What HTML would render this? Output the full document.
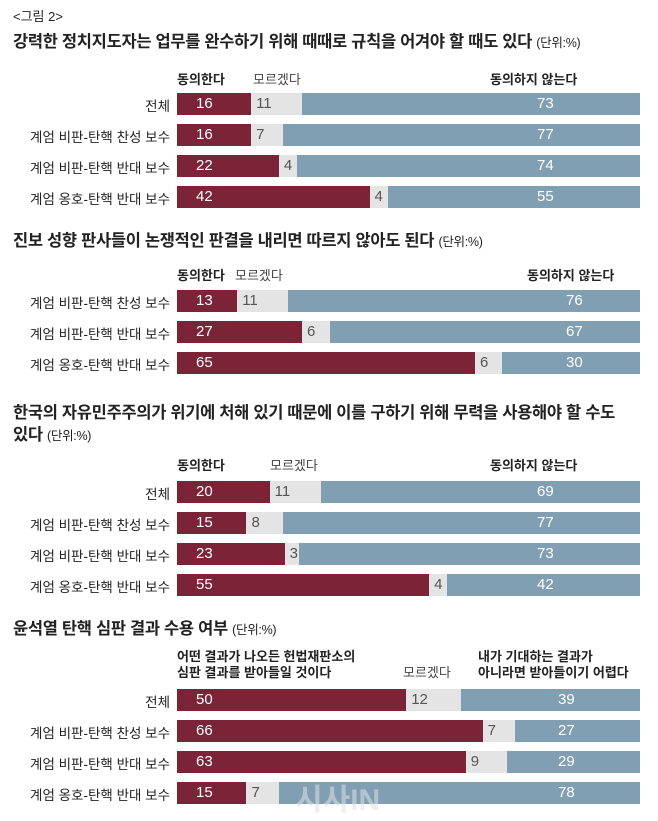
<!DOCTYPE html>
<html><head><meta charset="utf-8">
<style>
body{margin:0;width:658px;height:821px;background:#fff;font-family:"Liberation Sans","Noto Sans CJK KR",sans-serif;position:relative;overflow:hidden;color:#222}
.t{position:absolute;white-space:nowrap}
.title{font-size:16.5px;font-weight:bold;color:#222;letter-spacing:-0.3px}
.title small{font-size:12.5px;font-weight:normal}
.hd{font-size:13px;font-weight:bold;color:#222}
.hd.n{font-weight:normal;color:#444}
.lab{font-size:13.5px;right:488px;text-align:right}
.bar{position:absolute;height:22px}
.v{position:absolute;font-size:15px;line-height:22px;font-family:"Liberation Sans Narrow","Liberation Sans",sans-serif}
</style></head><body>
<div class="t" style="left:13px;top:6px;font-size:13px">&lt;그림 2&gt;</div>
<div id="root"></div>
<div class="t" style="left:295px;top:775px;font-size:30px;font-weight:bold;color:rgba(220,225,230,0.55)">시사IN</div>
<script>
const sections=[
 {title:'강력한 정치지도자는 업무를 완수하기 위해 때때로 규칙을 어겨야 할 때도 있다',ty:31,hy:72,ry:93,blueX:537,
  heads:[['동의한다',177,1],['모르겠다',253,0],['동의하지 않는다',490,1]]},
 {title:'진보 성향 판사들이 논쟁적인 판결을 내리면 따르지 않아도 된다',ty:230,hy:268,ry:290,blueX:566,
  heads:[['동의한다',177,1],['모르겠다',235,0],['동의하지 않는다',527,1]]},
 {title:'한국의 자유민주주의가 위기에 처해 있기 때문에 이를 구하기 위해 무력을 사용해야 할 수도<br>있다',ty:402,hy:458,ry:481,blueX:537,
  heads:[['동의한다',177,1],['모르겠다',270,0],['동의하지 않는다',490,1]]},
 {title:'윤석열 탄핵 심판 결과 수용 여부',ty:618,hy:649,ry:689,blueX:558,
  heads:[['어떤 결과가 나오든 헌법재판소의<br>심판 결과를 받아들일 것이다',177,1],['모르겠다',403,0],['내가 기대하는 결과가<br>아니라면 받아들이기 어렵다',478,1]]}
];
const rowLabels=[
 ['전체','계엄 비판-탄핵 찬성 보수','계엄 비판-탄핵 반대 보수','계엄 옹호-탄핵 반대 보수'],
 ['계엄 비판-탄핵 찬성 보수','계엄 비판-탄핵 반대 보수','계엄 옹호-탄핵 반대 보수'],
 ['전체','계엄 비판-탄핵 찬성 보수','계엄 비판-탄핵 반대 보수','계엄 옹호-탄핵 반대 보수'],
 ['전체','계엄 비판-탄핵 찬성 보수','계엄 비판-탄핵 반대 보수','계엄 옹호-탄핵 반대 보수']
];
const agree=[[16,16,22,42],[13,27,65],[20,15,23,55],[50,66,63,15]];
const unsure=[[11,7,4,4],[11,6,6],[11,8,3,4],[12,7,9,7]];
const disagree=[[73,77,74,55],[76,67,30],[69,77,73,42],[39,27,29,78]];
const X0=177,W=463,PITCH=31;
const root=document.getElementById('root');
function mk(cls,style,html){const d=document.createElement('div');d.className=cls;d.style.cssText=style;d.innerHTML=html;root.appendChild(d);return d;}
sections.forEach((s,si)=>{
 const t=mk('t title','left:13px;top:'+s.ty+'px;line-height:22px',s.title+' <small>(단위:%)</small>');
 
 
 s.heads.forEach((h,hi)=>{
  const e=mk('t hd'+(h[2]?'':' n'),'left:'+h[1]+'px;top:'+(s.hy+(h[0].includes('<br>')?0:(si==3?16:0)))+'px;line-height:16px',h[0]);
  
  
 });
 rowLabels[si].forEach((lab,ri)=>{
  const y=s.ry+ri*PITCH;
  const a=agree[si][ri],u=unsure[si][ri],d=disagree[si][ri],sum=a+u+d;
  const wa=W*a/sum,wu=W*u/sum,wd=W-wa-wu;
  const l=mk('t lab','top:'+(y+2)+'px',lab);
  
  
  const b1=mk('bar','left:'+X0+'px;top:'+y+'px;width:'+wa+'px;background:#7b2438','');
  
  
  const b2=mk('bar','left:'+(X0+wa)+'px;top:'+y+'px;width:'+wu+'px;background:#e4e4e4','');
  
  
  const b3=mk('bar','left:'+(X0+wa+wu)+'px;top:'+y+'px;width:'+wd+'px;background:#809fb3','');
  
  
  const v1=mk('v','left:'+(X0+19)+'px;top:'+y+'px;color:#fff',a);
  
  
  const v2=mk('v','left:'+(X0+wa+5)+'px;top:'+y+'px;color:#555',u);
  
  
  const v3=mk('v','left:'+s.blueX+'px;top:'+y+'px;color:#fff',d);
  
  
 });
});
</script>
</body></html>
